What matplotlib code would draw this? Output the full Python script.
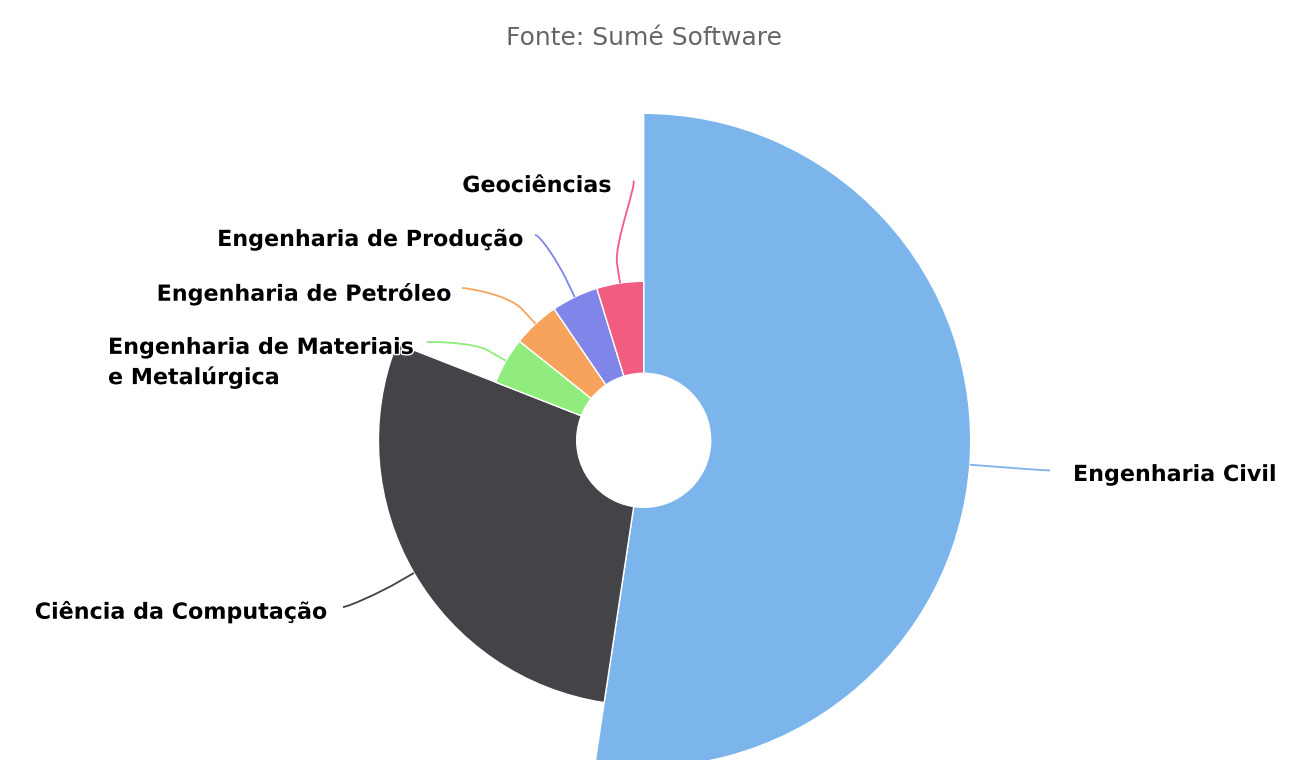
import numpy as np
import matplotlib
matplotlib.use("Agg")
import matplotlib.pyplot as plt
import matplotlib.patheffects as pe
from matplotlib.patches import Wedge, Circle, PathPatch
from matplotlib.path import Path

# dados do gráfico
categorias = [
    "Engenharia Civil",
    "Ciência da Computação",
    "Engenharia de Materiais\ne Metalúrgica",
    "Engenharia de Petróleo",
    "Engenharia de Produção",
    "Geociências",
]
valores = [11, 6, 1, 1, 1, 1]
tamanhos_z = [11, 5, 1, 1, 1, 1]
cores = ["#7cb5ec", "#434348", "#90ed7d", "#f7a35c", "#8085e9", "#f15c80"]

subtitulo = "Fonte: Sumé Software"

# layout (pixels)
W, H = 1305, 760
cx, cy = 643.7, 440.3
r_interno = 67
r_min, r_max = 159, 327
dist_quebra = 20

# ponta do conector junto ao rótulo, e posição do texto
pontas = [(1050, 470.5), (343, 607), (427, 342), (462, 288), (535, 235), (633, 181)]
textos_pos = [(1073, 475, "left"), (328, 612, "right"), (108, 363, "left"),
              (452, 294, "right"), (524, 240, "right"), (612, 186, "right")]

fig = plt.figure(figsize=(W / 100, H / 100), dpi=100)
ax = fig.add_axes([0, 0, 1, 1])
ax.set_xlim(0, W)
ax.set_ylim(H, 0)
ax.set_aspect("equal")
ax.axis("off")

total = float(sum(valores))
zmin, zmax = min(tamanhos_z), max(tamanhos_z)
raios = [r_min + np.sqrt((z - zmin) / (zmax - zmin)) * (r_max - r_min) for z in tamanhos_z]

contorno = [pe.withStroke(linewidth=2, foreground="white")]

inicio = 0.0
for i, v in enumerate(valores):
    fim = inicio + v / total * 360.0
    r = raios[i]
    ax.add_patch(Wedge((cx, cy), r, inicio - 90, fim - 90, width=r - r_interno,
                       facecolor=cores[i], edgecolor="white", linewidth=1))

    # conector (forma 'fixedOffset' suave)
    meio = np.radians((inicio + fim) / 2)
    dx, dy = np.sin(meio), -np.cos(meio)
    toque = (cx + r * dx, cy + r * dy)
    quebra = (cx + (r + dist_quebra) * dx, cy + (r + dist_quebra) * dy)
    px, py = pontas[i]
    ctrl1 = (px + (-5 if textos_pos[i][2] == "left" else 5), py)
    ctrl2 = (2 * quebra[0] - toque[0], 2 * quebra[1] - toque[1])
    caminho = Path([(px, py), ctrl1, ctrl2, quebra, toque],
                   [Path.MOVETO, Path.CURVE4, Path.CURVE4, Path.CURVE4, Path.LINETO])
    ax.add_patch(PathPatch(caminho, facecolor="none", edgecolor=cores[i], linewidth=1.3))

    tx, ty, ha = textos_pos[i]
    ax.text(tx, ty, categorias[i], ha=ha, va="center", fontsize=16, fontweight="bold",
            color="black", multialignment="left", linespacing=1.5,
            path_effects=contorno, zorder=5)
    inicio = fim

ax.add_patch(Circle((cx, cy), r_interno, facecolor="white", edgecolor="none"))

ax.text(W / 2 - 9, 38, subtitulo, ha="center", va="center", fontsize=18, color="#666666")

fig.savefig("out.png", dpi=100)
